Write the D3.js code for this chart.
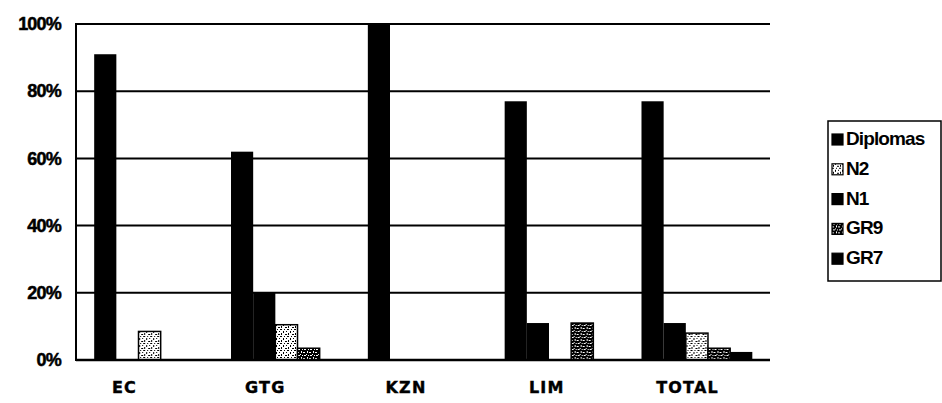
<!DOCTYPE html>
<html>
<head>
<meta charset="utf-8">
<script src="https://cdnjs.cloudflare.com/ajax/libs/d3/7.8.5/d3.min.js"></script>
<style>
  html, body { margin: 0; padding: 0; background: #fff; }
  svg { display: block; }
</style>
</head>
<body>
<div id="chart"></div>
<script>
// ---- data ----
const categories = ["EC", "GTG", "KZN", "LIM", "TOTAL"];
const seriesOrder = ["Diplomas", "N1", "N2", "GR9", "GR7"];   // bar order, left to right
const legendOrder = ["Diplomas", "N2", "N1", "GR9", "GR7"];   // legend order, top to bottom
const diplomas = [0.91, 0.62, 1.00, 0.77, 0.77];
const n1       = [0.00, 0.20, 0.00, 0.11, 0.11];
const n2       = [0.085, 0.105, 0.00, 0.00, 0.08];
const gr9      = [0.00, 0.035, 0.00, 0.11, 0.035];
const gr7      = [0.00, 0.00, 0.00, 0.00, 0.024];
const yTicks   = [0, 0.2, 0.4, 0.6, 0.8, 1.0];

const values = { Diplomas: diplomas, N1: n1, N2: n2, GR9: gr9, GR7: gr7 };

// ---- layout ----
const W = 942, H = 403;
const plotLeft = 76, plotRight = 770, plotTop = 24, plotBottom = 360;

const svg = d3.select("#chart").append("svg")
  .attr("width", W).attr("height", H);

// patterns
const defs = svg.append("defs");
const pN2 = defs.append("pattern").attr("id", "pn2")
  .attr("patternUnits", "userSpaceOnUse").attr("width", 7).attr("height", 7);
pN2.append("rect").attr("width", 7).attr("height", 7).attr("fill", "#fff");
[[0,0,2,1],[3,2,1,2],[5,5,2,1],[1,4,1,2],[4,0,1,1],[6,2,1,1]].forEach(r =>
  pN2.append("rect").attr("x", r[0]).attr("y", r[1]).attr("width", r[2]).attr("height", r[3]).attr("fill", "#000"));

const pGR9 = defs.append("pattern").attr("id", "pgr9")
  .attr("patternUnits", "userSpaceOnUse").attr("width", 6).attr("height", 6);
pGR9.append("rect").attr("width", 6).attr("height", 6).attr("fill", "#000");
[[1,1,2,1],[4,3,1,2],[0,4,2,1],[3,0,1,1],[5,1,1,1]].forEach(r =>
  pGR9.append("rect").attr("x", r[0]).attr("y", r[1]).attr("width", r[2]).attr("height", r[3]).attr("fill", "#fff"));

const fills = { Diplomas: "#000", N1: "#000", N2: "url(#pn2)", GR9: "url(#pgr9)", GR7: "#000" };
const strokes = { Diplomas: "none", N1: "none", N2: "#000", GR9: "#000", GR7: "none" };

// scales
const y = d3.scaleLinear().domain([0, 1]).range([plotBottom, plotTop]);
const x0 = d3.scaleBand().domain(categories).range([80.5, 766])
  .paddingInner(0.19).paddingOuter(0.1);
const x1 = d3.scaleBand().domain(seriesOrder).range([0, x0.bandwidth()]);
const xLabel = d3.scalePoint().domain(categories).range([124, 687]);

// gridlines
svg.append("g").selectAll("line").data(yTicks.filter(t => t > 0)).join("line")
  .attr("x1", plotLeft).attr("x2", plotRight)
  .attr("y1", d => y(d)).attr("y2", d => y(d))
  .attr("stroke", "#000").attr("stroke-width", 2);

// bars
const groups = svg.append("g").selectAll("g").data(categories).join("g")
  .attr("transform", c => `translate(${x0(c)},0)`);
groups.selectAll("rect")
  .data((c, i) => seriesOrder.map(s => ({ s, v: values[s][i] })).filter(d => d.v > 0))
  .join("rect")
  .attr("x", d => x1(d.s))
  .attr("y", d => y(d.v))
  .attr("width", x1.bandwidth())
  .attr("height", d => y(0) - y(d.v))
  .attr("fill", d => fills[d.s])
  .attr("stroke", d => strokes[d.s])
  .attr("stroke-width", 1.5);

// axes
svg.append("line").attr("x1", plotLeft).attr("x2", plotLeft)
  .attr("y1", plotTop - 1).attr("y2", plotBottom + 1)
  .attr("stroke", "#000").attr("stroke-width", 2);
svg.append("line").attr("x1", plotLeft).attr("x2", plotRight)
  .attr("y1", plotBottom).attr("y2", plotBottom)
  .attr("stroke", "#000").attr("stroke-width", 2.5);

const yAxis = svg.append("g").attr("transform", `translate(${plotLeft},0)`)
  .call(d3.axisLeft(y).tickValues(yTicks).tickFormat(d3.format(".0%")).tickSize(0).tickPadding(15));
yAxis.select(".domain").remove();
yAxis.selectAll("text")
  .attr("font-family", "'Liberation Sans', Arial, sans-serif")
  .attr("font-weight", "bold").attr("font-size", 18)
  .attr("letter-spacing", "-0.8px")
  .attr("stroke", "#000").attr("stroke-width", 0.5)
  .attr("fill", "#000");

const xAxis = svg.append("g").attr("transform", `translate(0,${plotBottom})`)
  .call(d3.axisBottom(xLabel).tickSize(0).tickPadding(22));
xAxis.select(".domain").remove();
xAxis.selectAll("text")
  .attr("font-family", "'DejaVu Sans', sans-serif")
  .attr("font-weight", "bold").attr("font-size", 16)
  .attr("letter-spacing", "1.2px")
  .attr("stroke", "#000").attr("stroke-width", 0.4)
  .attr("fill", "#000");

// legend
const legend = svg.append("g");
legend.append("rect").attr("x", 828).attr("y", 121).attr("width", 113).attr("height", 160)
  .attr("fill", "#fff").attr("stroke", "#000").attr("stroke-width", 1.5);
const legendFills = { Diplomas: "#000", N2: "url(#pn2)", N1: "#000", GR9: "url(#pgr9)", GR7: "#000" };
const items = legend.selectAll("g.item").data(legendOrder).join("g").attr("class", "item")
  .attr("transform", (d, i) => `translate(832,${145 + i * 29.8})`);
items.append("rect").attr("x", 0).attr("y", -11).attr("width", 11).attr("height", 11)
  .attr("fill", d => legendFills[d]).attr("stroke", "#000").attr("stroke-width", 1.2);
items.append("text").attr("x", 14).attr("y", 0)
  .attr("font-family", "'Liberation Sans Narrow', 'Liberation Sans', Arial, sans-serif")
  .attr("font-weight", "bold").attr("font-size", 19)
  .attr("letter-spacing", "-0.9px")
  .attr("fill", "#000")
  .text(d => d);
</script>
</body>
</html>
